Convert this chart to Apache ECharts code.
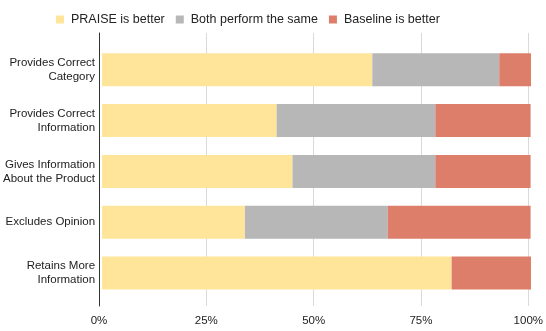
<!DOCTYPE html>
<html>
<head>
<meta charset="utf-8">
<script src="https://cdn.jsdelivr.net/npm/echarts@6/dist/echarts.min.js"></script>
<style>
  html, body { margin: 0; padding: 0; background: #fff; }
  #chart { width: 546px; height: 331px; }
</style>
</head>
<body>
<div id="chart"></div>
<script>
// share of 27 judgements per criterion
var categories = [
  'Provides Correct\nCategory',
  'Provides Correct\nInformation',
  'Gives Information\nAbout the Product',
  'Excludes Opinion',
  'Retains More\nInformation'
];
var praiseBetter = [0.630, 0.407, 0.444, 0.333, 0.815];
var bothSame = [0.296, 0.370, 0.333, 0.333, 0];
var baselineBetter = [0.074, 0.222, 0.222, 0.333, 0.185];
var tickValues = [0, 0.25, 0.5, 0.75, 1];

var colors = ['#ffe599', '#b7b7b7', '#dd7e6b'];
var font = 'Liberation Sans, Arial, sans-serif';

var chart = echarts.init(document.getElementById('chart'), null, { renderer: 'canvas' });

function bar(name, data) {
  return {
    name: name,
    type: 'bar',
    stack: 'total',
    xAxisIndex: 0,
    yAxisIndex: 0,
    barWidth: 33,
    data: data,
    itemStyle: { borderWidth: 0 },
    emphasis: { disabled: true }
  };
}

var option = {
  animation: false,
  color: colors,
  textStyle: { fontFamily: font },
  legend: {
    top: 8,
    left: 51,
    itemWidth: 8,
    itemHeight: 8,
    itemGap: 11,
    icon: 'rect',
    textStyle: { fontSize: 12.5, color: '#222', fontFamily: font, padding: [0, 0, 0, 2] },
    data: ['PRAISE is better', 'Both perform the same', 'Baseline is better']
  },
  grid: [
    // bars
    { left: 99, right: 15, top: 44.4, bottom: 32.6 },
    // gridlines + axis, slightly taller than the bars area
    { left: 99, right: 15, top: 33, bottom: 25 }
  ],
  xAxis: [
    {
      gridIndex: 0, type: 'value', min: 0, max: 1, interval: 0.25,
      show: false
    },
    {
      gridIndex: 1, type: 'value', min: 0, max: 1, interval: 0.25,
      axisLine: { show: false },
      axisTick: { show: false },
      splitLine: { show: true, lineStyle: { color: '#d9d9d9', width: 1 } },
      axisLabel: {
        margin: 9,
        fontSize: 11.5,
        color: '#222',
        fontFamily: font,
        formatter: function (v) { return Math.round(v * 100) + '%'; }
      }
    }
  ],
  yAxis: [
    {
      gridIndex: 0, type: 'category', inverse: true,
      data: categories,
      axisLine: { show: false },
      axisTick: { show: false },
      axisLabel: {
        margin: 7,
        fontSize: 11.5,
        lineHeight: 14,
        color: '#222',
        fontFamily: font,
        align: 'right'
      }
    },
    {
      gridIndex: 1, type: 'category', data: [''],
      axisLine: { show: true, onZero: false, lineStyle: { color: '#333', width: 1 } },
      axisTick: { show: false },
      axisLabel: { show: false }
    }
  ],
  series: [
    bar('PRAISE is better', praiseBetter),
    bar('Both perform the same', bothSame),
    bar('Baseline is better', baselineBetter)
  ]
};

chart.setOption(option);
</script>
</body>
</html>
